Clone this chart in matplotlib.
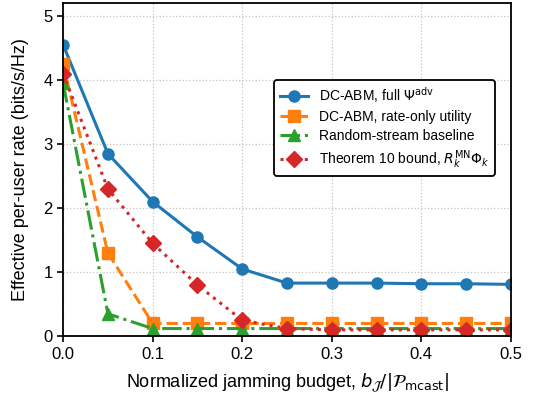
import matplotlib
matplotlib.use("Agg")
import matplotlib.pyplot as plt

plt.rcParams['font.family'] = ['Liberation Sans', 'DejaVu Sans']
plt.rcParams['mathtext.fontset'] = 'dejavusans'

budget = [0.0, 0.05, 0.1, 0.15, 0.2, 0.25, 0.3, 0.35, 0.4, 0.45, 0.5]
full_psi = [4.55, 2.85, 2.1, 1.55, 1.05, 0.83, 0.83, 0.83, 0.82, 0.82, 0.81]
rate_only = [4.25, 1.3, 0.2, 0.2, 0.2, 0.2, 0.2, 0.2, 0.2, 0.2, 0.2]
random_stream = [3.95, 0.35, 0.12, 0.12, 0.12, 0.12, 0.12, 0.12, 0.12, 0.12, 0.12]
thm_bound = [4.1, 2.3, 1.45, 0.8, 0.25, 0.12, 0.1, 0.1, 0.1, 0.1, 0.1]

fig, ax = plt.subplots(figsize=(5.35, 3.97), dpi=100)
ax.plot(budget, full_psi, '-o', color='#1f77b4', lw=2.2, ms=8,
        label=r'DC-ABM, full $\Psi^{\mathrm{adv}}$')
ax.plot(budget, rate_only, '--s', color='#ff7f0e', lw=2.2, ms=8,
        label='DC-ABM, rate-only utility')
ax.plot(budget, random_stream, '-.^', color='#2ca02c', lw=2.2, ms=8,
        label='Random-stream baseline')
ax.plot(budget, thm_bound, ':D', color='#d62728', lw=2.2, ms=8,
        label=r'Theorem 10 bound, $R_k^{\mathrm{MN}}\Phi_k$')

ax.set_xlim(0, 0.5)
ax.set_ylim(0, 5.2)
ax.set_xticks([0.0, 0.1, 0.2, 0.3, 0.4, 0.5])
ax.set_yticks([0, 1, 2, 3, 4, 5])
ax.tick_params(labelsize=12, width=1.2, length=4)
ax.grid(True, linestyle=':', color='#c4c4c4', lw=0.9)
for s in ax.spines.values():
    s.set_linewidth(1.3)
ax.set_xlabel(r'Normalized jamming budget, $b_{\mathcal{J}}/|\mathcal{P}_{\mathrm{mcast}}|$',
              fontsize=13, labelpad=7)
ax.set_ylabel('Effective per-user rate (bits/s/Hz)', fontsize=13, labelpad=10)
leg = ax.legend(loc='center right', bbox_to_anchor=(0.98, 0.625), fontsize=10,
                framealpha=1, edgecolor='black', fancybox=True, labelspacing=0.35)
leg.get_frame().set_linewidth(1.3)

plt.subplots_adjust(left=0.118, right=0.955, top=0.992, bottom=0.153)
fig.savefig('out.png', dpi=100)
